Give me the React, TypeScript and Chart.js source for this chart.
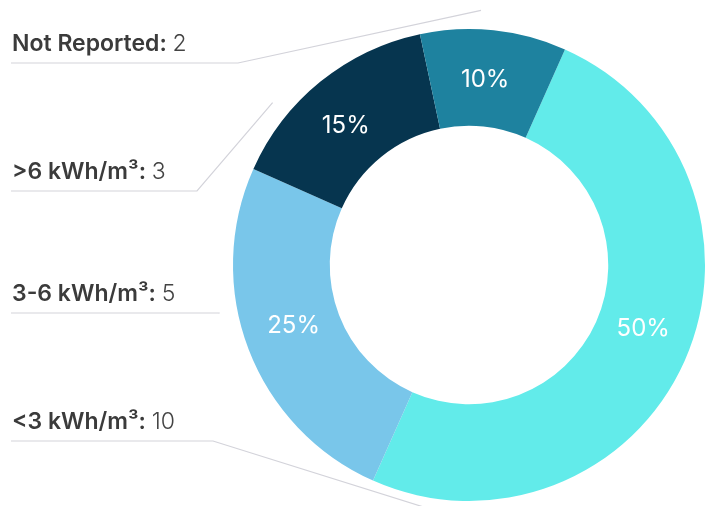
import React, { useEffect, useRef } from "react";
import { Chart, registerables } from "chart.js";

Chart.register(...registerables);

// Data (clockwise order starting at the cyan segment)
const CATEGORIES = ["<3 kWh/m³", "3-6 kWh/m³", ">6 kWh/m³", "Not Reported"];
const COUNTS = [10, 5, 3, 2];
const COLORS = ["#62EBEA", "#79C6EA", "#06354F", "#1E829F"];

// Percentage label angular nudges (deg) relative to segment mid-angle
const PCT_ANGLE_NUDGE = [-3.8, 1.9, -2.6, -1.0];

// Left-side annotation layout (by category index): line y, elbow x, end angle (deg, clockwise from top)
const LABEL_LINE_Y = [441, 313, 191, 63];
const LABEL_ELBOW_X = [213, 219, 197, 238];
const LABEL_END_ANGLE = [181, 259, 309.6, 2.7];
const LABEL_END_RADIUS_FACTOR = 1.08;

const labelPlugin = {
  id: "customLabels",
  afterDatasetsDraw(chart: any) {
    const ctx = chart.ctx as CanvasRenderingContext2D;
    const meta = chart.getDatasetMeta(0);
    const data = chart.data.datasets[0].data as number[];
    const total = data.reduce((a, b) => a + b, 0);
    ctx.save();
    // percentage labels
    meta.data.forEach((arc: any, i: number) => {
      const p = arc.getProps(["x", "y", "startAngle", "endAngle", "innerRadius", "outerRadius"], true);
      const mid = (p.startAngle + p.endAngle) / 2 + (PCT_ANGLE_NUDGE[i] * Math.PI) / 180;
      const r = (p.innerRadius + p.outerRadius) / 2 - 2;
      const x = p.x + Math.cos(mid) * r;
      const y = p.y + Math.sin(mid) * r;
      ctx.fillStyle = "#ffffff";
      ctx.font = "400 24px Inter, 'Noto Sans', sans-serif";
      ctx.textAlign = "center";
      ctx.textBaseline = "middle";
      ctx.fillText(Math.round((data[i] / total) * 100) + "%", x, y);
    });
    // left labels with leader lines
    const first = meta.data[0].getProps(["x", "y", "outerRadius"], true);
    const cx = first.x;
    const cy = first.y;
    const R = first.outerRadius * LABEL_END_RADIUS_FACTOR;
    CATEGORIES.forEach((cat, i) => {
      const ly = LABEL_LINE_Y[i];
      const ex = LABEL_ELBOW_X[i];
      const a = (LABEL_END_ANGLE[i] * Math.PI) / 180;
      const endX = cx + Math.sin(a) * R;
      const endY = cy - Math.cos(a) * R;
      ctx.strokeStyle = "#D3D3DA";
      ctx.lineWidth = 1.2;
      ctx.beginPath();
      ctx.moveTo(11, ly);
      ctx.lineTo(ex, ly);
      ctx.lineTo(endX, endY);
      ctx.stroke();

      ctx.textAlign = "left";
      ctx.textBaseline = "alphabetic";
      ctx.fillStyle = "#3B3B3B";
      ctx.font = "600 23px Inter, 'Noto Sans', sans-serif";
      const boldText = cat + ":";
      ctx.fillText(boldText, 12, ly - 12);
      const w = ctx.measureText(boldText + " ").width;
      ctx.font = "300 23px Inter, 'Noto Sans', sans-serif";
      ctx.fillStyle = "#444444";
      ctx.fillText(String(COUNTS[i]), 12 + w, ly - 12);
    });
    ctx.restore();
  },
};

export default function App() {
  const ref = useRef<HTMLCanvasElement>(null);
  useEffect(() => {
    if (!ref.current) return;
    const chart = new Chart(ref.current, {
      type: "doughnut",
      data: {
        labels: CATEGORIES,
        datasets: [
          {
            data: COUNTS,
            backgroundColor: COLORS,
            borderWidth: 0,
          },
        ],
      },
      options: {
        responsive: false,
        animation: false,
        rotation: 24,
        cutout: "59%",
        layout: { padding: { left: 233, top: 29, right: 6, bottom: 5 } },
        plugins: {
          legend: { display: false },
          tooltip: { enabled: false },
        },
      },
      plugins: [labelPlugin],
    });
    return () => chart.destroy();
  }, []);
  return (
    <div style={{ position: "fixed", left: 0, top: 0, width: 711, height: 506, background: "#fff" }}>
      <canvas ref={ref} width={711} height={506} style={{ width: 711, height: 506 }} />
    </div>
  );
}
